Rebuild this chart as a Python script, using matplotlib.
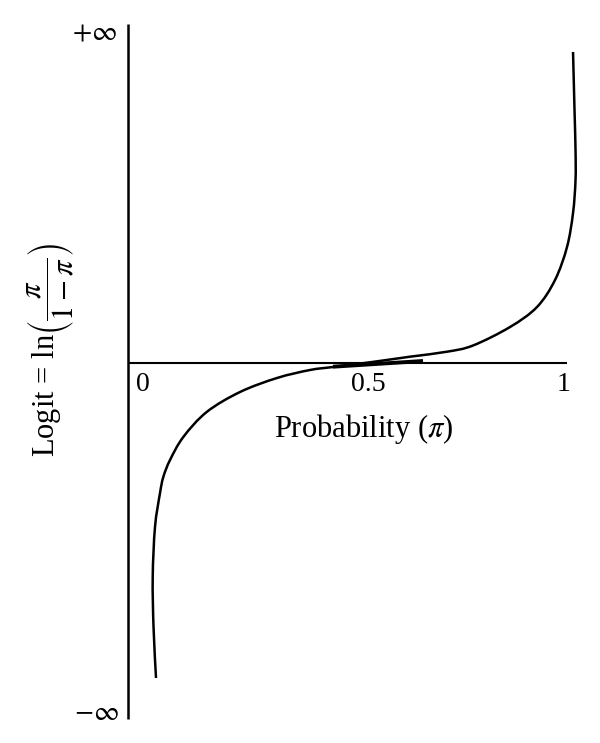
import matplotlib
matplotlib.use("Agg")
import matplotlib.pyplot as plt
import numpy as np
from matplotlib.path import Path
from matplotlib.patches import PathPatch

plt.rcParams['font.family'] = ['Liberation Serif', 'DejaVu Serif']
plt.rcParams['mathtext.fontset'] = 'stix'

# curve values (probability, logit in arbitrary units)
prob = [0.0308, 0.0249, 0.0230, 0.0284, 0.0403, 0.0481, 0.0640, 0.0955, 0.1509,
        0.2299, 0.3175, 0.3957, 0.4502, 0.5379, 0.6327, 0.7204, 0.7820, 0.8697,
        0.9336, 0.9763, 1.0047, 1.0190, 1.0249, 1.0249, 1.0225, 1.0190]
logit = [-3.145, -2.635, -2.135, -1.635, -1.295, -1.135, -0.965, -0.735, -0.485,
         -0.285, -0.145, -0.065, -0.035, 0.012, 0.068, 0.118, 0.180, 0.365,
         0.565, 0.835, 1.165, 1.505, 1.835, 2.135, 2.535, 3.115]

# short tangent segment near 0.5
tan_x = [0.4502, 0.6635]
tan_y = [-0.032, 0.025]

xtick_labels = ['0', '0.5', '1']
xtick_pos = [0.0, 0.533, 0.9976]

fig = plt.figure(figsize=(6, 7.43), dpi=100)
ax = fig.add_axes([0, 0, 1, 1])
ax.set_xlim(-0.3389, 1.0829)
ax.set_ylim(-3.795, 3.635)
ax.axis('off')

# axes lines
ax.plot([-0.0344, -0.0344], [-3.555, 3.395], color='black', lw=1.8, solid_capstyle='butt')
ax.plot([-0.0344, 1.0047], [0, 0], color='black', lw=1.5, solid_capstyle='butt')

# smooth curve through the read points (Catmull-Rom drawn as cubic Bezier path)
P = np.column_stack([prob, logit])
verts = [P[0]]
codes = [Path.MOVETO]
n = len(P)
for i in range(n - 1):
    p0 = P[i - 1] if i > 0 else P[i]
    p1 = P[i]
    p2 = P[i + 1]
    p3 = P[i + 2] if i + 2 < n else P[i + 1]
    c1 = p1 + (p2 - p0) / 6.0
    c2 = p2 - (p3 - p1) / 6.0
    verts += [c1, c2, p2]
    codes += [Path.CURVE4] * 3
ax.add_patch(PathPatch(Path(verts, codes), facecolor='none', edgecolor='black', lw=1.8))

ax.plot(tan_x, tan_y, color='black', lw=2.8, solid_capstyle='butt')

for xp, lab in zip(xtick_pos, xtick_labels):
    ax.text(xp, -0.215, lab, ha='center', va='center', fontsize=20)

ax.text(0.5225, -0.66, r'Probability ($\pi$)', ha='center', va='center', fontsize=22)

ax.text(-0.1161, 3.305, r'$+\infty$', ha='center', va='center', fontsize=20)
ax.text(-0.1114, -3.495, r'$-\infty$', ha='center', va='center', fontsize=20)

ax.text(-0.22, 0.135, r'Logit = ln$\left(\dfrac{\pi}{1-\pi}\right)$', rotation=90,
        ha='center', va='center', fontsize=22)

fig.savefig('out.png', dpi=100)
